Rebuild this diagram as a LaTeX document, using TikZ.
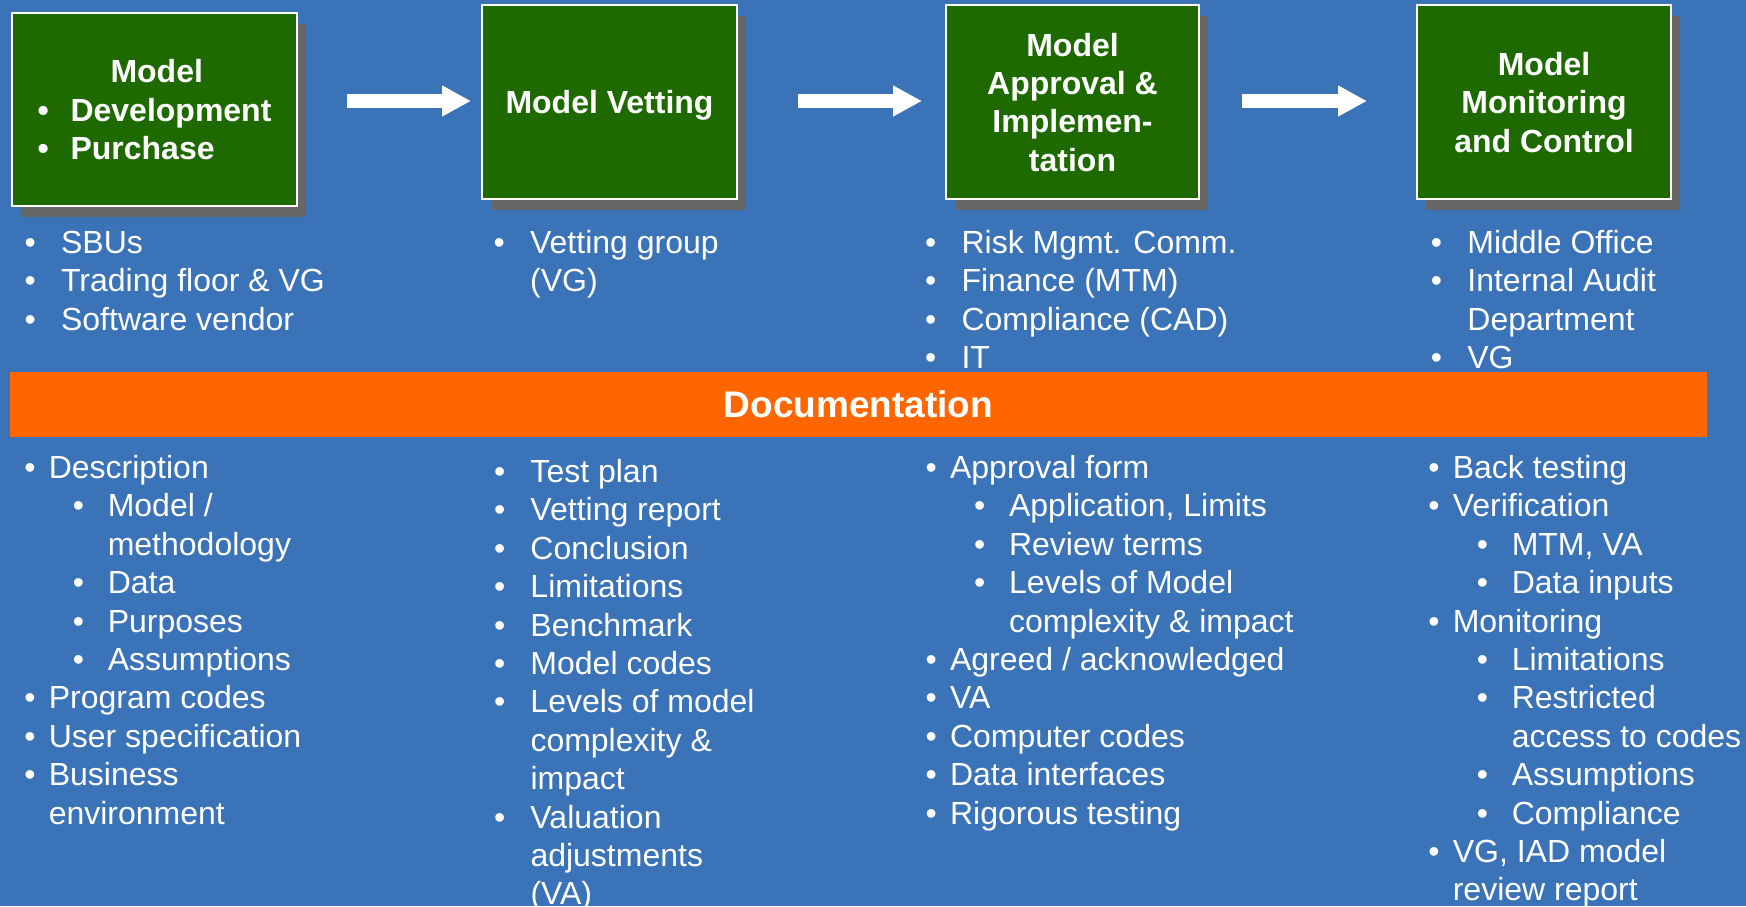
\documentclass[tikz,border=0pt]{standalone}
\usepackage{fontspec}
\setmainfont{Liberation Sans}
\usetikzlibrary{arrows.meta,shadows}
\definecolor{bg}{HTML}{3B73B9}
\definecolor{boxgreen}{HTML}{1E6900}
\definecolor{shade}{HTML}{666666}
\definecolor{docorange}{HTML}{FF6600}
% list helpers
\newcommand\LW[1]{\makebox[36.5pt][l]{•}#1}
\newcommand\CW[1]{\hspace*{36.5pt}#1}
\newcommand\LA[1]{\makebox[24.5pt][l]{•}#1}
\newcommand\CA[1]{\hspace*{24.5pt}#1}
\newcommand\LB[1]{\hspace*{48.5pt}\makebox[35pt][l]{•}#1}
\newcommand\CB[1]{\hspace*{83.5pt}#1}
\begin{document}
\begin{tikzpicture}[x=1pt,y=-1pt,
  stagebox/.style={draw=white, line width=2pt, fill=boxgreen, inner sep=0pt,
    text=white, font=\bfseries\fontsize{32}{38.4}\selectfont, align=center,
    text depth=0pt,
    drop shadow={shadow xshift=9pt, shadow yshift=-11pt, fill=shade, opacity=1}},
  listtext/.style={anchor=base west, inner sep=0pt, text=white, align=left,
    font=\fontsize{32}{38.4}\selectfont},
  flowarrow/.style={draw=white, line width=14pt,
    -{Triangle[length=29pt,width=29pt]}},
  docbar/.style={fill=docorange, inner sep=0pt, text=white, text depth=0pt,
    font=\bfseries\fontsize{37}{44}\selectfont}]
\fill[bg] (0,0) rectangle (1746,906);
\useasboundingbox (0,0) rectangle (1746,906);

% stage boxes
\node[stagebox, minimum width=285pt, minimum height=193pt, align=left] (b1) at (154.5,109.5)
  {\hspace*{73pt}Model\\ \makebox[33pt][l]{•}Development\hspace*{16pt}\\ \makebox[33pt][l]{•}Purchase};
\node[stagebox, minimum width=255pt, minimum height=194pt] (b2) at (609.5,102) {Model Vetting};
\node[stagebox, minimum width=253pt, minimum height=194pt] (b3) at (1072.5,102) {Model\\Approval \&\\Implemen-\\tation};
\node[stagebox, minimum width=254pt, minimum height=194pt] (b4) at (1544,102) {Model\\Monitoring\\and Control};

% flow arrows
\coordinate (a1s) at (347,101); \coordinate (a1e) at (471,101);
\coordinate (a2s) at (798,101); \coordinate (a2e) at (922,101);
\coordinate (a3s) at (1242,101); \coordinate (a3e) at (1367,101);
\draw[flowarrow] (a1s) -- (a1e);
\draw[flowarrow] (a2s) -- (a2e);
\draw[flowarrow] (a3s) -- (a3e);

% responsible parties (anchor = baseline of last line)
\node[listtext] (u1) at (24.4,{253.5+2*38.4}) {\LW{SBUs}\\ \LW{Trading floor \& VG}\\ \LW{Software vendor}};
\node[listtext] (u2) at (493.4,{253.5+1*38.4}) {\LW{Vetting group}\\ \CW{(VG)}};
\node[listtext] (u3) at (924.9,{253.5+3*38.4}) {\LW{Risk Mgmt. Comm.}\\ \LW{Finance (MTM)}\\ \LW{Compliance (CAD)}\\ \LW{IT}};
\node[listtext] (u4) at (1430.7,{253.5+3*38.4}) {\LW{Middle Office}\\ \LW{Internal Audit}\\ \CW{Department}\\ \LW{VG}};

% documentation bar
\node[docbar, minimum width=1697pt, minimum height=65pt] (doc) at (858.5,404.5) {Documentation};

% documentation lists
\node[listtext] (d1) at (24.1,{478.5+9*38.4}) {\LA{Description}\\ \LB{Model /}\\ \CB{methodology}\\ \LB{Data}\\ \LB{Purposes}\\ \LB{Assumptions}\\ \LA{Program codes}\\ \LA{User specification}\\ \LA{Business}\\ \CA{environment}};
\node[listtext] (d2) at (493.8,{482.5+11*38.4}) {\LW{Test plan}\\ \LW{Vetting report}\\ \LW{Conclusion}\\ \LW{Limitations}\\ \LW{Benchmark}\\ \LW{Model codes}\\ \LW{Levels of model}\\ \CW{complexity \&}\\ \CW{impact}\\ \LW{Valuation}\\ \CW{adjustments}\\ \CW{(VA)}};
\node[listtext] (d3) at (925.4,{478.5+9*38.4}) {\LA{Approval form}\\ \LB{Application, Limits}\\ \LB{Review terms}\\ \LB{Levels of Model}\\ \CB{complexity \& impact}\\ \LA{Agreed / acknowledged}\\ \LA{VA}\\ \LA{Computer codes}\\ \LA{Data interfaces}\\ \LA{Rigorous testing}};
\node[listtext] (d4) at (1428.1,{478.5+11*38.4}) {\LA{Back testing}\\ \LA{Verification}\\ \LB{MTM, VA}\\ \LB{Data inputs}\\ \LA{Monitoring}\\ \LB{Limitations}\\ \LB{Restricted}\\ \CB{access to codes}\\ \LB{Assumptions}\\ \LB{Compliance}\\ \LA{VG, IAD model}\\ \CA{review report}};
\end{tikzpicture}
\end{document}
